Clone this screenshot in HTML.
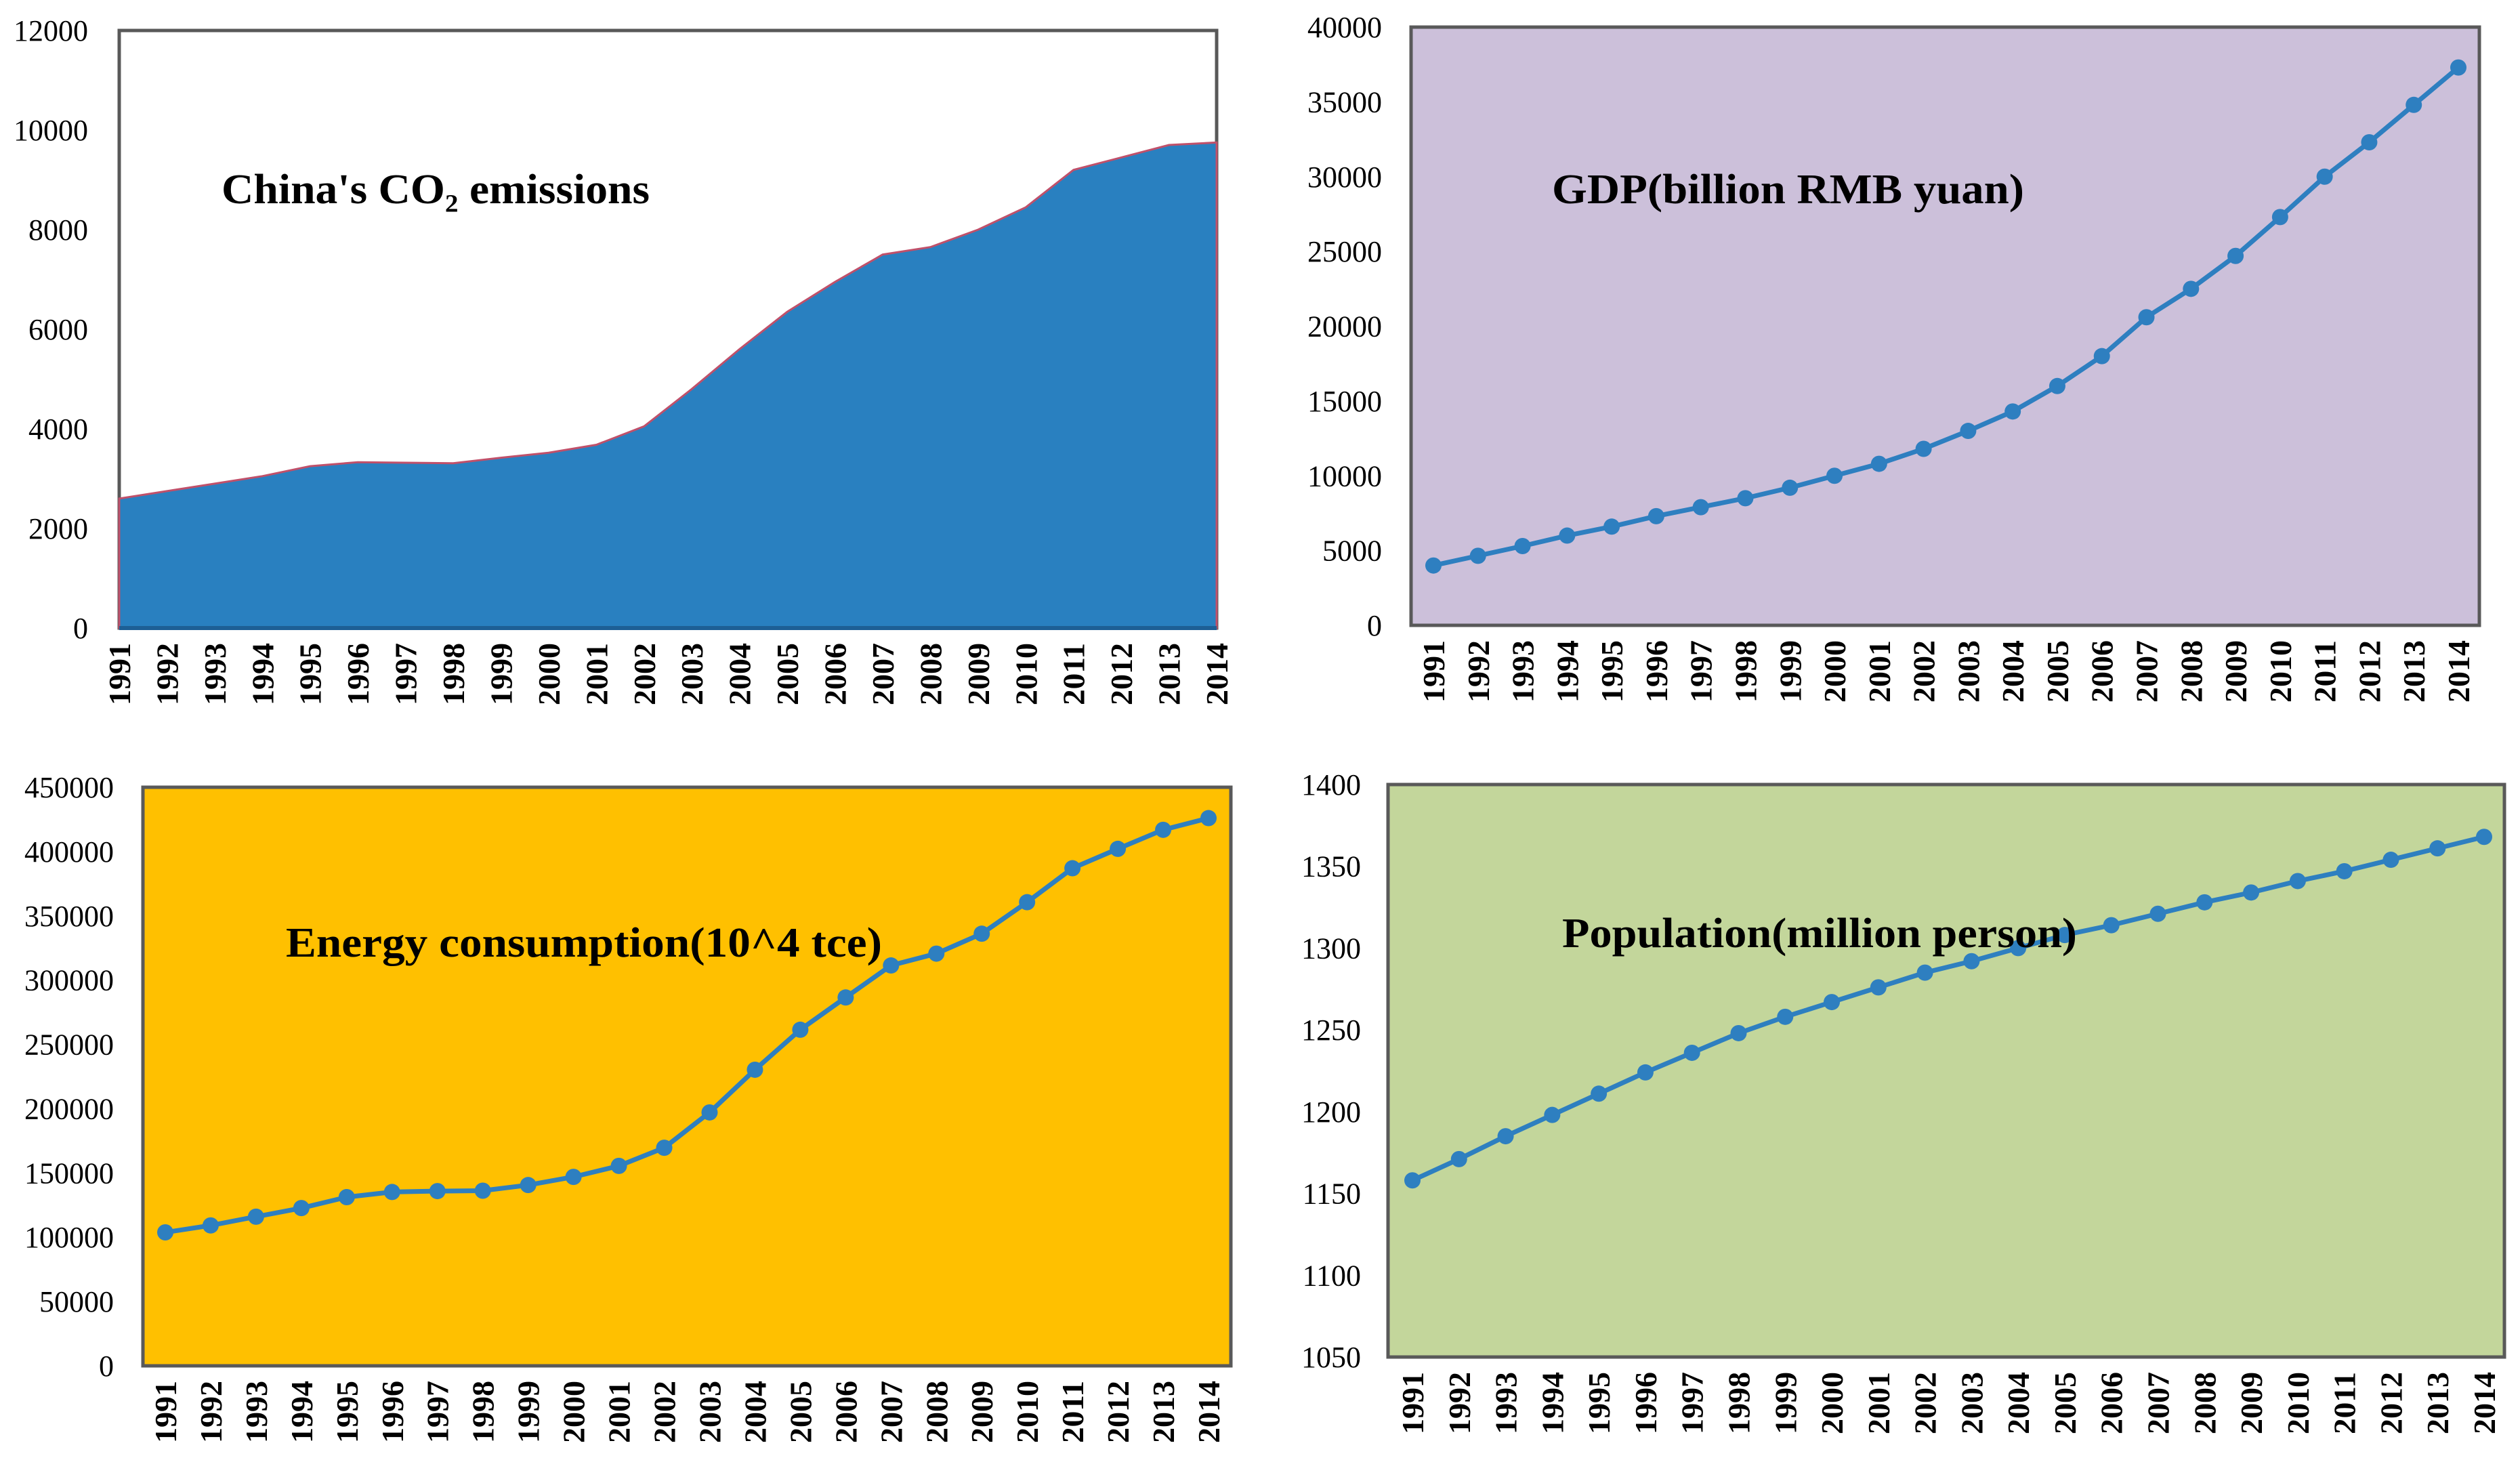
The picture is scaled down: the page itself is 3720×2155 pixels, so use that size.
<!DOCTYPE html>
<html><head><meta charset="utf-8"><style>
html,body{margin:0;padding:0;background:#fff;}
svg{display:block;}
text{font-family:"Liberation Serif",serif;fill:#000;}
</style></head><body>
<svg id="s" width="3720" height="2155" viewBox="0 0 3720 2155" xmlns="http://www.w3.org/2000/svg"></svg>
<script>
const years = ["1991","1992","1993","1994","1995","1996","1997","1998","1999","2000","2001","2002","2003","2004","2005","2006","2007","2008","2009","2010","2011","2012","2013","2014"];
const co2Values = [2600,2750,2900,3050,3250,3330,3320,3310,3420,3520,3680,4050,4800,5600,6350,6950,7500,7650,8000,8450,9200,9450,9700,9750];
const gdpValues = [4000,4650,5300,6000,6600,7300,7900,8500,9200,10000,10800,11800,13000,14300,16000,18000,20600,22500,24700,27300,30000,32300,34800,37300];
const energyValues = [103800,109200,116000,122700,131200,135200,135900,136200,140600,146960,155500,169600,197100,230300,261400,286500,311400,320600,336100,360600,387000,402100,416900,426000];
const popValues = [1158,1171,1185,1198,1211,1224,1236,1248,1258,1267,1276,1285,1292,1300,1308,1314,1321,1328,1334,1341,1347,1354,1361,1368];
const co2Ticks = [0,2000,4000,6000,8000,10000,12000];
const gdpTicks = [0,5000,10000,15000,20000,25000,30000,35000,40000];
const energyTicks = [0,50000,100000,150000,200000,250000,300000,350000,400000,450000];
const popTicks = [1050,1100,1150,1200,1250,1300,1350,1400];

const NS="http://www.w3.org/2000/svg";
const svg=document.getElementById('s');
function mk(tag,attrs,parent){const e=document.createElementNS(NS,tag);for(const k in attrs)e.setAttribute(k,attrs[k]);(parent||svg).appendChild(e);return e;}

function chart(o){
  const g=mk('g',{});
  
  
  const min=o.ticks[0],max=o.ticks[o.ticks.length-1];
  const y=v=>o.b-(v-min)/(max-min)*(o.b-o.t);
  const x=i=>o.x0+(o.x1-o.x0)*i/(years.length-1);
  const bg=mk('rect',{x:o.l,y:o.t,width:o.r-o.l,height:o.b-o.t,fill:o.bg,stroke:'#595959','stroke-width':5},g);
  
  
  o.ticks.forEach(v=>{
    const t=mk('text',{x:o.lx,y:y(v)+15,'text-anchor':'end','font-size':44},g);
    t.textContent=v;
    
    
  });
  years.forEach((yr,i)=>{
    const cx=x(i)+16, ty=o.b+22;
    const t=mk('text',{x:cx,y:ty,'text-anchor':'end','font-size':46,'font-weight':'bold',textLength:92,lengthAdjust:'spacingAndGlyphs',transform:`rotate(-90 ${cx} ${ty})`},g);
    t.textContent=yr;
    
    
  });
  if(o.area){
    let d=`M${x(0)},${o.b}`;
    o.values.forEach((v,i)=>{d+=` L${x(i)},${y(v)}`;});
    d+=` L${x(o.values.length-1)},${o.b} Z`;
    const a=mk('path',{d:d,fill:'#2980c0',stroke:'#c0506a','stroke-width':3},g);
    
    
    mk('line',{x1:o.l,y1:o.b,x2:o.r,y2:o.b,stroke:'#1d5f95','stroke-width':6},g);
  } else {
    const pts=o.values.map((v,i)=>x(i)+','+y(v)).join(' ');
    const l=mk('polyline',{points:pts,fill:'none',stroke:'#2e7fc0','stroke-width':7},g);
    
    
    o.values.forEach((v,i)=>{
      const c=mk('circle',{cx:x(i),cy:y(v),r:12,fill:'#2e7fc0'},g);
      
      
    });
  }
  const tt=mk('text',{x:o.tx,y:o.ty,'font-size':62,'font-weight':'bold',textLength:o.tw,lengthAdjust:'spacingAndGlyphs'},g);
  tt.textContent=o.title;
  
  
}

chart({name:'co2-chart',l:176,t:45,r:1796,b:927,x0:176,x1:1796,lx:130,ticks:co2Ticks,values:co2Values,area:true,bg:'#ffffff',title:"China's CO₂ emissions",tx:327,ty:300,tw:632});
chart({name:'gdp-chart',l:2083,t:40,r:3660,b:923,x0:2116,x1:3629,lx:2040,ticks:gdpTicks,values:gdpValues,bg:'#ccc0da',title:"GDP(billion RMB yuan)",tx:2291,ty:300,tw:697});
chart({name:'energy-chart',l:211,t:1162,r:1817,b:2016,x0:244,x1:1784,lx:168,ticks:energyTicks,values:energyValues,bg:'#ffc000',title:"Energy consumption(10^4 tce)",tx:422,ty:1412,tw:880});
chart({name:'population-chart',l:2049,t:1158,r:3697,b:2003,x0:2085,x1:3667,lx:2009,ticks:popTicks,values:popValues,bg:'#c3d69b',title:"Population(million person)",tx:2306,ty:1398,tw:760});
</script>
</body></html>
